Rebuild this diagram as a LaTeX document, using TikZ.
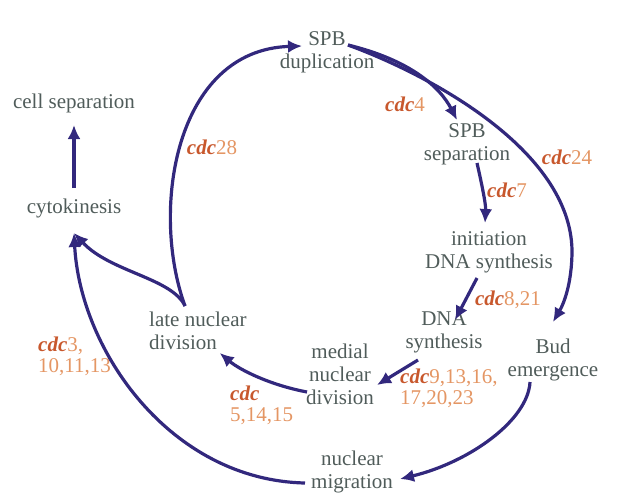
\documentclass[tikz,border=0pt]{standalone}
\usepackage{fontspec}
\setmainfont{Liberation Serif}
\usepackage{tikz}
\usetikzlibrary{calc,arrows.meta}

\definecolor{stagegray}{RGB}{80,92,90}
\definecolor{cdcred}{RGB}{200,88,45}
\definecolor{cdcnum}{RGB}{228,150,100}
\definecolor{cycblue}{RGB}{50,40,125}

\newcommand{\cdc}[1]{{\color{cdcred}\textbf{\textit{cdc}}}#1}

\tikzset{
  stage/.style={text=stagegray, align=center, inner sep=1pt, font=\fontsize{21}{23}\selectfont},
  gene/.style={text=cdcnum, align=left, inner sep=1pt, font=\fontsize{21}{21}\selectfont},
  cyc/.style={draw=cycblue, line width=3.2pt, -{Latex[length=14pt,width=13pt]}}
}

\begin{document}
\begin{tikzpicture}[x=1pt,y=-1pt]
      \useasboundingbox (0,0) rectangle (620,493);

      \node[stage] (spbdup) at (327,52) {SPB\\duplication};
      \node[stage] (cellsep) at (74,103) {cell separation};
      \node[stage] (cytok) at (74,208) {cytokinesis};
      \node[stage] (spbsep) at (467,144) {SPB\\separation};
      \node[stage] (init) at (489,252) {initiation\\DNA synthesis};
      \node[stage] (dnasyn) at (444,332) {DNA\\synthesis};
      \node[stage] (bud) at (553,360) {Bud\\emergence};
      \node[stage] (medial) at (340,374) {medial\\nuclear\\division};
      \node[stage, anchor=west, align=left] (late) at (148,331) {late nuclear\\division};
      \node[stage] (migr) at (352,472) {nuclear\\migration};

      \node[gene] (g28) at (212,147) {\cdc{28}};
      \node[gene] (g4) at (405,104) {\cdc{4}};
      \node[gene] (g24) at (567,157) {\cdc{24}};
      \node[gene] (g7) at (507,190) {\cdc{7}};
      \node[gene] (g821) at (508,300) {\cdc{8,21}};
      \node[gene, anchor=west] (g9) at (399,388) {\cdc{9,13,16,}\\17,20,23};
      \node[gene, anchor=west] (g5) at (229,405) {\cdc{}\\5,14,15};
      \node[gene, anchor=west] (g3) at (37,356) {\cdc{3,}\\10,11,13};

      \coordinate (cusp) at (185,306);

      \draw[cyc] ([shift={(0,-20)}]cytok.center) -- ([shift={(0,22)}]cellsep.center);
      \draw[cyc] (cusp) .. controls (150,210) and (175,50) .. ([shift={(-25,-6)}]spbdup.center);
      \draw[cyc] (cusp) .. controls (172,278) and (110,272) .. ([shift={(0,25)}]cytok.center);
      \draw[cyc] ([shift={(-47,11)}]migr.center) .. controls (170,480) and (80,350) .. ([shift={(0,25)}]cytok.center);
      \draw[cyc] ([shift={(21,-7)}]spbdup.center) .. controls (410,60) and (440,87) .. ([shift={(-10,-24)}]spbsep.center);
      \draw[cyc] ([shift={(21,-7)}]spbdup.center) .. controls (430,75) and (570,150) .. (572,250)
        .. controls (572,285) and (563,305) .. ([shift={(0,-38)}]bud.center);
      \draw[cyc] ([shift={(10,19)}]spbsep.center) .. controls (482,185) and (486,205) .. ([shift={(-4,-29)}]init.center);
      \draw[cyc] ([shift={(-12,26)}]init.center) -- ([shift={(11,-12)}]dnasyn.center);
      \draw[cyc] ([shift={(-26,28)}]dnasyn.center) -- ([shift={(37,11)}]medial.center);
      \draw[cyc] ([shift={(-33,18)}]medial.center) .. controls (270,385) and (240,370) .. ([shift={(-28,22)}]late.east);
      \draw[cyc] ([shift={(-23,22)}]bud.center) .. controls (528,420) and (470,462) .. ([shift={(48,7)}]migr.center);
    \end{tikzpicture}
\end{document}
